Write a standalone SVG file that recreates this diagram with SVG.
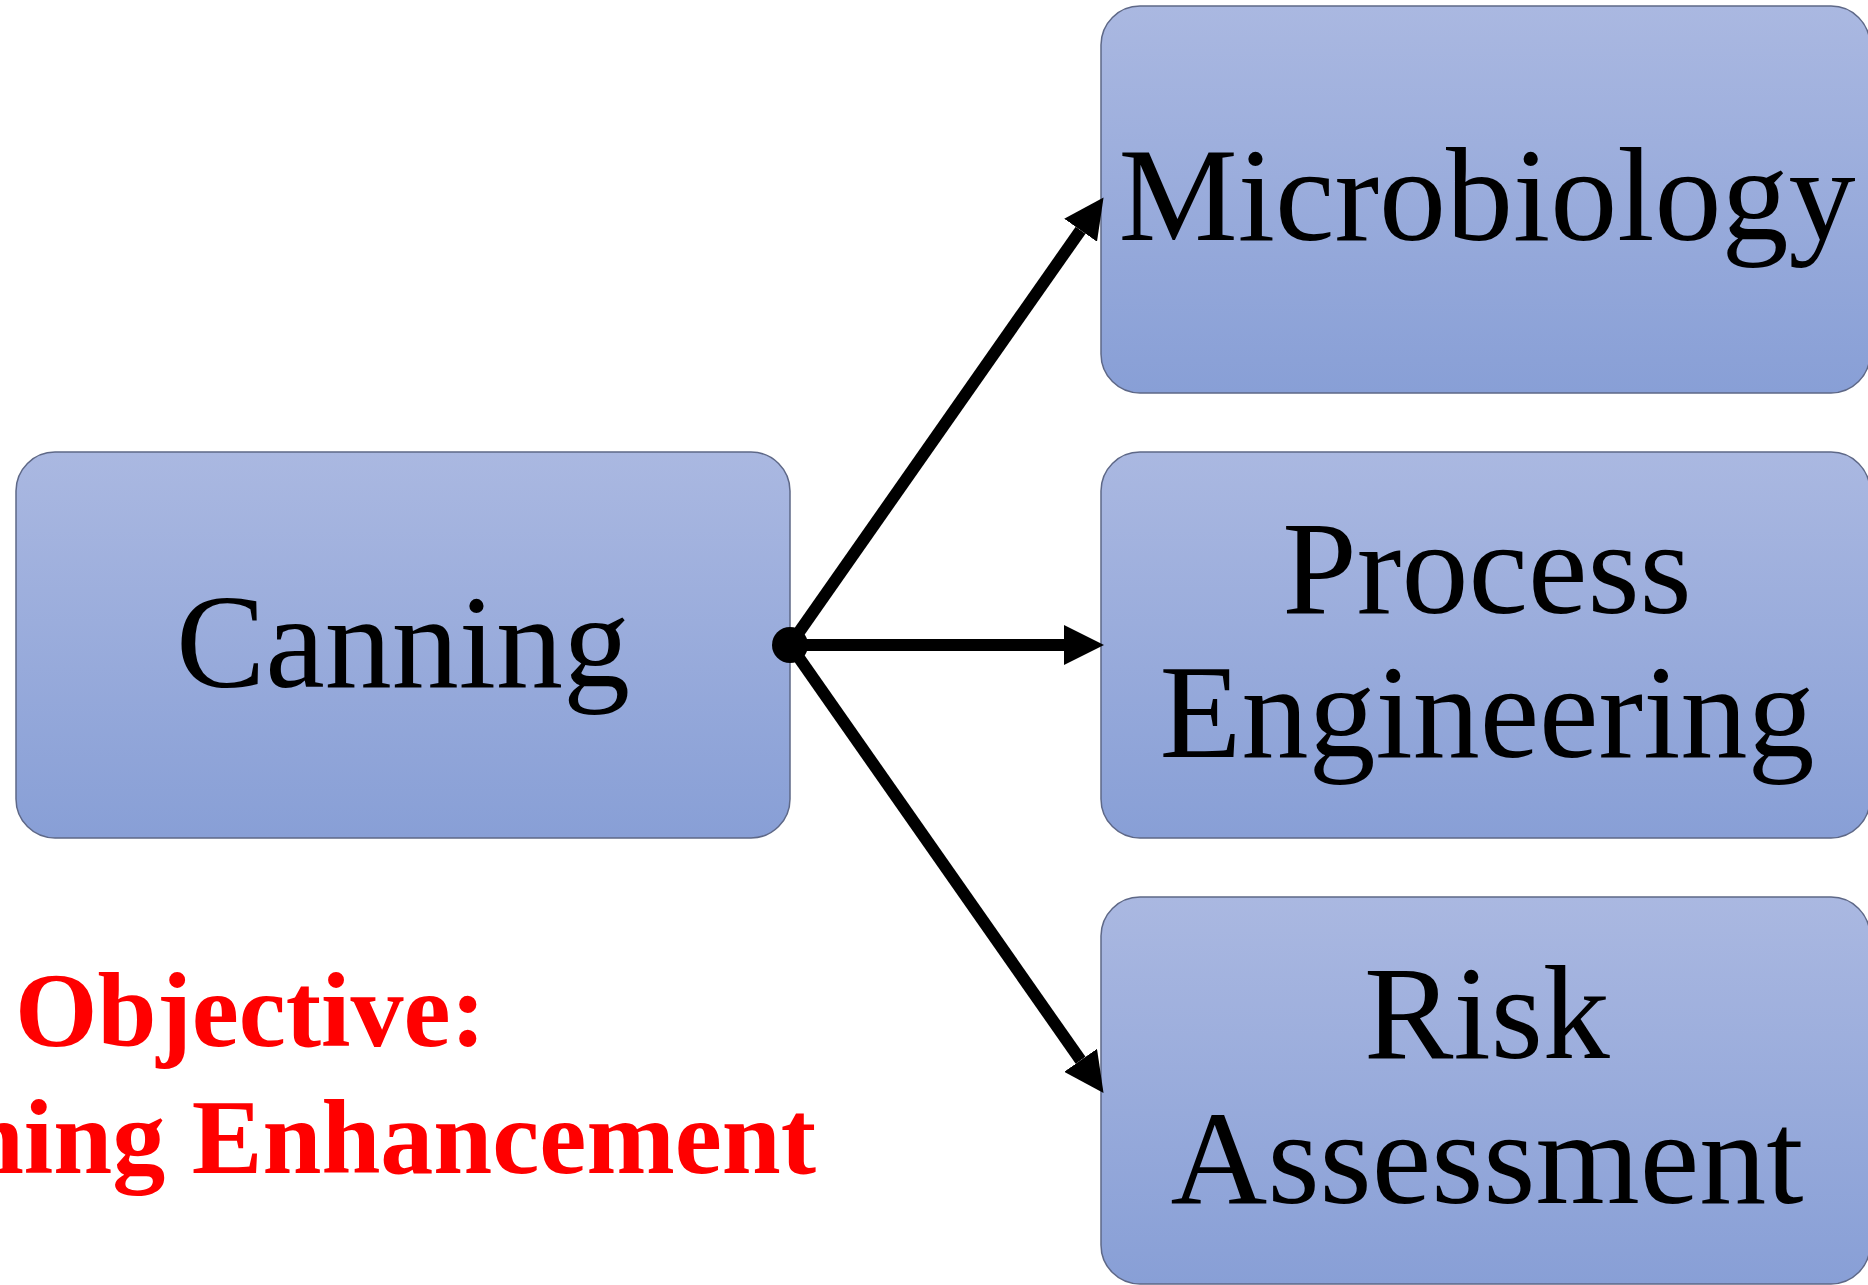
<svg xmlns="http://www.w3.org/2000/svg" width="1868" height="1285" viewBox="0 0 1868 1285">
<defs>
<linearGradient id="boxGrad" x1="0" y1="0" x2="0" y2="1">
<stop offset="0" stop-color="#AAB8E1"/>
<stop offset="1" stop-color="#889FD6"/>
</linearGradient>
<marker id="arrow" markerUnits="userSpaceOnUse" markerWidth="40" markerHeight="40" viewBox="0 -18 36 36" refX="0" refY="0" orient="auto">
<path d="M0,-18 L36,0 L0,18 Z" fill="#000"/>
</marker>
</defs>
<style>
.box { fill: url(#boxGrad); stroke: #5E6887; stroke-width: 1.5; }
.label { font-family: "Liberation Serif", "Times New Roman", serif; font-size: 134px; fill: #000; text-anchor: middle; }
.obj { font-family: "Liberation Serif", "Times New Roman", serif; font-size: 106px; font-weight: bold; fill: #FF0000; }
.conn { stroke: #000; stroke-width: 12; fill: none; }
</style>
<rect width="1868" height="1285" fill="#FFFFFF"/>
<g id="canning">
<rect class="box" x="16" y="452" width="774" height="386" rx="39" ry="39"/>
<text class="label" x="403" y="687">Canning</text>
</g>
<g id="microbiology">
<rect class="box" x="1101" y="6" width="769" height="387" rx="39" ry="39"/>
<text class="label" x="1487" y="240">Microbiology</text>
</g>
<g id="process-engineering">
<rect class="box" x="1101" y="452" width="769" height="386" rx="39" ry="39"/>
<text class="label" x="1487" y="613">Process</text>
<text class="label" x="1487" y="757">Engineering</text>
</g>
<g id="risk-assessment">
<rect class="box" x="1101" y="897" width="769" height="387" rx="39" ry="39"/>
<text class="label" x="1487" y="1058">Risk</text>
<text class="label" x="1487" y="1203">Assessment</text>
</g>
<g id="objective">
<text class="obj" x="15" y="1046">Objective:</text>
<text class="obj" x="816" y="1173" text-anchor="end">Canning Enhancement</text>
</g>
<g id="connectors">
<line class="conn" x1="790" y1="645" x2="1080.6" y2="230.2" marker-end="url(#arrow)"/>
<line class="conn" x1="790" y1="645" x2="1064" y2="645" marker-end="url(#arrow)"/>
<line class="conn" x1="790" y1="645" x2="1080.6" y2="1060.3" marker-end="url(#arrow)"/>
<circle cx="790" cy="645" r="18" fill="#000"/>
</g>
</svg>
